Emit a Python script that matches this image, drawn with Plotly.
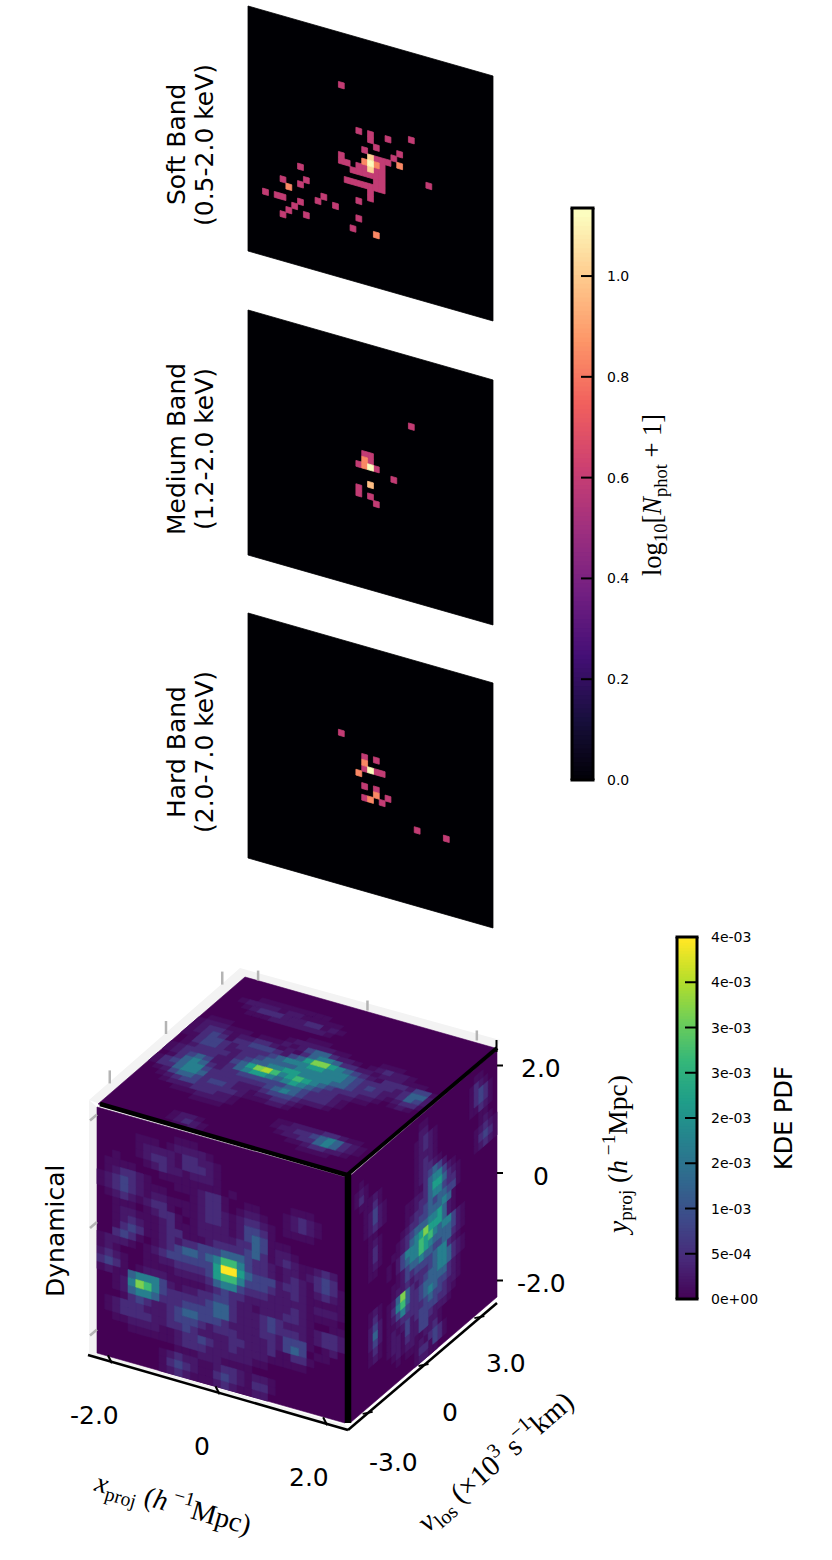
import plotly.colors as pc
import plotly.graph_objects as go

PHOT_MAX = 1.135
KDE_MAX = 4e-3

# photon maps: column, row, log10(N+1), background is zero
M, O, P, W = 0.6, 0.85, 1.03, 1.13
SOFT_COLS = [16, 19, 21, 21, 22, 24, 28, 20, 16, 16, 17, 26, 25, 26, 31, 20, 21, 21, 21, 22,
             18, 19, 19, 20, 20, 21, 22, 22, 22, 23, 23, 23, 23, 23, 23, 24, 22,
             17, 18, 19, 20, 21, 22, 21, 21,
             9, 6, 10, 9, 7, 3, 5, 6, 9, 8, 7, 6, 10, 13, 12, 15, 19, 19, 18, 22]
SOFT_ROWS = [9, 16, 16, 17, 18, 16, 15, 19, 21, 22, 22, 18, 19, 20, 22, 21, 20, 21, 22, 21,
             23, 22, 23, 22, 23, 23, 22, 23, 24, 20, 21, 22, 23, 24, 25, 20, 20,
             25, 25, 25, 25, 25, 25, 26, 27,
             25, 28, 27, 28, 29, 31, 31, 31, 31, 32, 33, 34, 33, 29, 30, 30, 28, 31, 33, 33]
SOFT_VALS = [M, M, M, M, M, M, M, M, M, M, M, M, M, O, M, O, P, W, P, O,
             M, M, M, M, M, M, M, M, M, M, M, M, M, M, M, M, M,
             M, M, M, M, M, M, M, M,
             M, M, M, M, O, M, M, M, M, M, M, M, M, M, M, M, M, M, M, O]

MEDIUM_COLS = [28, 20, 21, 20, 21, 19, 20, 21, 22, 25, 19, 19, 21, 21, 22]
MEDIUM_ROWS = [12, 19, 19, 20, 20, 21, 21, 21, 21, 22, 25, 26, 24, 26, 27]
MEDIUM_VALS = [M, M, M, O, M, M, O, W, M, M, M, M, 0.98, M, M]

HARD_COLS = [16, 20, 20, 20, 22, 19, 21, 22, 23, 20, 22, 22, 20, 21, 23, 24, 29, 34]
HARD_ROWS = [16, 19, 20, 21, 19, 22, 21, 21, 21, 24, 24, 25, 26, 26, 26, 25, 29, 29]
HARD_VALS = [M, M, O, M, M, O, W, M, M, M, M, O, M, O, M, M, M, M]

BAND_NAMES = ["Soft Band", "Medium Band", "Hard Band"]
BAND_RANGES = ["(0.5-2.0 keV)", "(1.2-2.0 keV)", "(2.0-7.0 keV)"]
PHOT_TICKS = [0.0, 0.2, 0.4, 0.6, 0.8, 1.0]
PHOT_TICK_TEXT = ["0.0", "0.2", "0.4", "0.6", "0.8", "1.0"]
KDE_TICKS = [0, 5e-4, 1e-3, 1.5e-3, 2e-3, 2.5e-3, 3e-3, 3.5e-3, 4e-3]
KDE_TICK_TEXT = ["0e+00", "5e-04", "1e-03", "2e-03", "2e-03", "3e-03", "3e-03", "4e-03", "4e-03"]

# KDE faces, one character per cell, fraction of the colour range
KDE_LEVELS = {":": 0.03, "1": 0.065, "2": 0.12, "3": 0.2, "4": 0.31, "5": 0.43, "6": 0.55,
              "7": 0.68, "8": 0.8, "9": 0.87, "A": 1.0}

FRONT_ROWS = [
    "................................",
    "..........:::...................",
    ".....:::.:1111:.................",
    ".....:1111:2211:................",
    ".....:1221:2221:................",
    "..:...:1211:111:................",
    ".::::...::::::::.:.......:::....",
    ".:1221:...:::122:..::...:121:...",
    ":12321:::...:122:.:11:..:121:...",
    ":12321:11::::1221:1221:.::::....",
    ".:121:122:.::1221:1332:.........",
    "..:::.:122:.:1111:1343:::.......",
    "..:11:::12:::111112243:11:......",
    "..:121::122:::12222342:121::121.",
    "..:232::121223334443221:11:1232.",
    "..232:.:123443457753221:121:232:",
    ":111:.:123333336AA643331221:121:",
    ":1:...::1122223677533321121:::::",
    "121:..::::11112455322211111:111:",
    "232:.:111:::::1232211111121::::.",
    ":1::455531:112233211:111221:..::",
    "..:158753222223442111232111:1221",
    "..:145542223333442111232221:1221",
    "...:23211234433321111221333:.:1",
    ".:1222111233321222111121343.::.",
    ".:122221122321111221112::22:....",
    "..::1111::122321121111:::::.....",
    "....::::::1222111111::.........",
    "..........:::111::::............",
    "........:1211::1221:11:.........",
    "........:2321::2321:22:.........",
    "........:121:::121::11..........",
]

RIGHT_ROWS = [
    "................................",
    "...............::..........::...",
    "..:............11.........:21:..",
    ".:1:..........:121:.......:232:.",
    ".:2:..........:121:.......:232:.",
    "..:::1:.......:111:.......::21:.",
    "...::2:.......:121:.........::..",
    "...:131:......:1221:........:1:.",
    "...:131:......:123431......:121:",
    "...:121:......::245531:....:232:",
    "....::......::112466421:...:121:",
    "....:1:.....::122455322:........",
    "....:2:.....:1223434433:........",
    "....:2:....:1223344454:.........",
    "....:1:...:12344455641:.........",
    "....::...::12456866641:.........",
    "........:.13555767545531:.......",
    "........:.13455765444431:.......",
    "..........:1344544334421:......",
    ".........::132333345521:.......",
    "....:1:..:11212223455421:.......",
    "....:2:.:148421234455421:.......",
    "....131.:25742234444421:........",
    "....141.:13532234543321:........",
    "....131.::1222223433211:........",
    "....:2:.:1:13123333221:.........",
    "....:1:.:11:311332111:..........",
    "........:11:2113311:............",
    ".........:1:11::112:............",
    "..........:.:::1:232:...........",
    "..............:22:32:...........",
    "..............:11::.............",
]

TOP_ROWS = [
    "................................",
    "................................",
    "................................",
    "....:::::::::...................",
    "..:1111:11:::::.................",
    "...:122211122:1:................",
    "....:::1111111:.................",
    "................................",
    ".............:::................",
    ".:::.......:11111::....:::......",
    ":111:::.:::1:1344211:.:1211:....",
    ":1221:11221:1:245542211:111:::..",
    ":1232:223332134688654321:222133:",
    "::233212222345556655543222212441",
    ".:233211223444455555543232112431",
    ".:1222212344556655554432221:122:",
    ":1222211346897567654322211:.:1:",
    ":12343112456654565432211::......",
    ".:245421223333334432221:........",
    ":2345532222222345432221:........",
    ":224554222211123332111:.........",
    ".:13443233211:11221:............",
    "..:1233222221:::11:.............",
    "...:11122211:...................",
    ".....:::1111:...................",
    "........::::.......::1111221::..",
    "...................:1122345421:.",
    "....................:112245421:",
    "......................::12211:..",
    "........:11:............::::....",
    "........:121:...................",
    ".........::1:...................",
]

X_TICKS = [-2.0, 0, 2.0]
V_TICKS = [-3.0, 0, 3.0]
Y_TICKS = [-2.0, 0, 2.0]
X_TICK_TEXT = ["-2.0", "0", "2.0"]
V_TICK_TEXT = ["-3.0", "0", "3.0"]
Y_TICK_TEXT = ["-2.0", "0", "2.0"]

# page geometry of the panels and the cube (origin, column step, row step)
PANEL_TOPS = [6, 310, 613]
PANEL_X0 = 248
PANEL_CELL = 5.833
PANEL_SHEAR = 0.2857
PANEL_N = 42
FRONT_FACE = ((97, 1107), (248 / 32, 70 / 32), (0, 246 / 32))
RIGHT_FACE = ((350, 1176), (147 / 32, -126 / 32), (0, 247 / 32))
TOP_FACE = ((245, 977), (250 / 32, 71 / 32), (-147 / 32, 127 / 32))
FONT_SANS = "DejaVu Sans"
FONT_MATH = "Liberation Serif"

MAGMA = pc.sequential.Magma
VIRIDIS = pc.sequential.Viridis


def cell_polygon(face, col0, row0, col1, row1):
    (ox, oy), (ax, ay), (bx, by) = face
    pts = [(col0, row0), (col1, row0), (col1, row1), (col0, row1), (col0, row0)]
    return [ox + c * ax + r * bx for c, r in pts], [oy + c * ay + r * by for c, r in pts]


def add_cells(fig, groups, scale, seam=0.6):
    for frac, polys in sorted(groups.items()):
        xs, ys = [], []
        for px, py in polys:
            xs += px + [None]
            ys += py + [None]
        color = pc.sample_colorscale(scale, [frac])[0]
        fig.add_trace(go.Scatter(x=xs, y=ys, mode="lines", fill="toself", fillcolor=color,
                                 line={"color": color, "width": seam}, hoverinfo="skip"))


# filled traces can sit over plain line traces, so edges and ticks go in as shapes
def add_line(fig, xs, ys, color="black", width=2.0):
    for i in range(len(xs) - 1):
        fig.add_shape(type="line", x0=xs[i], y0=ys[i], x1=xs[i + 1], y1=ys[i + 1], layer="above",
                      line={"color": color, "width": width})


def label(fig, x, y, text, size, angle=0, family=FONT_SANS, anchor="center"):
    fig.add_annotation(x=x, y=y, text=text, showarrow=False, textangle=angle, xanchor=anchor,
                       yanchor="middle", font={"family": family, "size": size, "color": "black"},
                       borderpad=0)


def colorbar(fig, scale, vmax, left, right, top, bottom, label_x, tickvals, ticktext):
    steps = 128
    face = ((left, bottom), (right - left, 0), (0, (top - bottom) / steps))
    groups = {i / (steps - 1): [cell_polygon(face, 0, max(i - 1, 0), 1, i + 1)] for i in range(steps)}
    add_cells(fig, groups, scale, seam=0)
    for v, text in zip(tickvals, ticktext):
        ty = bottom + (top - bottom) * v / vmax
        add_line(fig, [right - 12, right], [ty, ty], width=2)
        label(fig, label_x, ty, text, 14, anchor="left")
    add_line(fig, [left - 1.5, right + 1.5], [top, top], width=3)
    add_line(fig, [left - 1.5, right + 1.5], [bottom, bottom], width=3)
    add_line(fig, [left, left], [top, bottom], width=3)
    add_line(fig, [right, right], [top, bottom], width=3)


fig = go.Figure()

# photon panels
bands = [(SOFT_COLS, SOFT_ROWS, SOFT_VALS), (MEDIUM_COLS, MEDIUM_ROWS, MEDIUM_VALS), (HARD_COLS, HARD_ROWS, HARD_VALS)]
for top, (cols, rows, vals), name, erange in zip(PANEL_TOPS, bands, BAND_NAMES, BAND_RANGES):
    face = ((PANEL_X0, top), (PANEL_CELL, PANEL_CELL * PANEL_SHEAR), (0, PANEL_CELL))
    groups = {0.0: [cell_polygon(face, 0, 0, PANEL_N, PANEL_N)]}
    for c, r, v in zip(cols, rows, vals):
        groups.setdefault(v / PHOT_MAX, []).append(cell_polygon(face, c - 0.5, r - 0.5, c + 0.5, r + 0.5))
    add_cells(fig, groups, MAGMA, seam=0.8)
    label(fig, 176, top + 139, name, 25, -90)
    label(fig, 204, top + 139, erange, 25, -90)

# cube panes and their gridline stubs
PANE = "#f3f3f3"
fig.add_trace(go.Scatter(x=[89, 97, 97, 345, 348, 89, 89], y=[1100, 1107, 1353, 1423, 1430, 1355, 1100], mode="lines",
                         fill="toself", fillcolor=PANE, line={"width": 0}, hoverinfo="skip"))
fig.add_trace(go.Scatter(x=[89, 240, 500, 497, 245, 100, 89], y=[1100, 968, 1040, 1048, 977, 1104, 1100], mode="lines",
                         fill="toself", fillcolor=PANE, line={"width": 0}, hoverinfo="skip"))
fig.add_trace(go.Scatter(x=[97, 348, 345, 97], y=[1353, 1426, 1423, 1353], mode="lines", fill="toself",
                         fillcolor="white", line={"width": 0}, hoverinfo="skip"))

GRID = "#b4b4b4"
for t in X_TICKS:
    f = 0.486 + t * 0.217
    gx, gy = 245 + 252 * f, 977 + 69 * f
    add_line(fig, [gx, gx], [gy - 10, gy], GRID, 2.5)
for t in V_TICKS:
    f = 0.5 + t * 0.1267
    gx, gy = 92 + 148 * f, 1098 - 130 * f
    add_line(fig, [gx, gx], [gy - 12, gy + 1], GRID, 2.5)
for t in Y_TICKS:
    f = 0.508 + t * 0.215
    gy = 1300 - 250 * f + 52
    add_line(fig, [90, 97], [gy + 3, gy - 3], GRID, 2.5)

# cube faces
for face, rows in ((TOP_FACE, TOP_ROWS), (FRONT_FACE, FRONT_ROWS), (RIGHT_FACE, RIGHT_ROWS)):
    groups = {0.0: [cell_polygon(face, 0, 0, 32, 32)]}
    for r, row in enumerate(rows):
        for c, ch in enumerate(row[:32]):
            if ch in KDE_LEVELS:
                groups.setdefault(KDE_LEVELS[ch], []).append(cell_polygon(face, c, r, c + 1, r + 1))
    add_cells(fig, groups, VIRIDIS)

# cube edges and axes
add_line(fig, [100, 347], [1104, 1175], width=4.5)
add_line(fig, [348, 348], [1174, 1423], width=6.5)
add_line(fig, [347, 497], [1175, 1048], width=4)
add_line(fig, [496.5, 496.5], [1040, 1052], width=2)
add_line(fig, [88, 348, 497], [1355, 1430, 1303], width=2.5)

for t, text, lx, ly in zip(X_TICKS, X_TICK_TEXT, [94, 202, 309], [1415, 1446, 1477]):
    f = 0.486 + t * 0.217
    tx, ty = 97 + 248 * f, 1355.5 + 248 * f * 0.288
    add_line(fig, [tx - 2, tx + 2], [ty - 4, ty + 4], width=2)
    label(fig, lx, ly, text, 25)
for t, text, lx, ly in zip(V_TICKS, V_TICK_TEXT, [393, 450, 506], [1462, 1412, 1363]):
    f = 0.5 + t * 0.1267
    tx, ty = 350 + 147 * f, 1428 - 126 * f
    add_line(fig, [tx - 5, tx + 5], [ty + 1, ty - 1], width=2)
    label(fig, lx, ly, text, 25)
for t, text in zip(Y_TICKS, Y_TICK_TEXT):
    f = 0.508 + t * 0.215
    ty = 1300 - 250 * f
    add_line(fig, [497, 503], [ty, ty], width=2)
    label(fig, 541, ty + 3, text, 25)

label(fig, 55, 1231, "Dynamical", 25, -90)
label(fig, 173, 1503, "<i>x</i><sub>proj</sub> (<i>h</i><sup> −1</sup>Mpc)", 28, 16, FONT_MATH)
label(fig, 495, 1461, "<i>v</i><sub>los</sub> (×10<sup>3</sup> s<sup>−1</sup>km)", 29, -41, FONT_MATH)
label(fig, 617, 1156, "<i>y</i><sub>proj</sub> (<i>h</i><sup> −1</sup>Mpc)", 27.5, -90, FONT_MATH)
label(fig, 654, 495, "log<sub>10</sub>[<i>N</i><sub>phot</sub> + 1]", 26.5, -90, FONT_MATH)
label(fig, 784, 1118, "KDE PDF", 24, -90)

colorbar(fig, MAGMA, PHOT_MAX, 572, 593, 208, 780, 606, PHOT_TICKS, PHOT_TICK_TEXT)
colorbar(fig, VIRIDIS, KDE_MAX, 677, 697, 937, 1299, 710, KDE_TICKS, KDE_TICK_TEXT)

fig.update_layout(
    width=832,
    height=1560,
    margin={"l": 0, "r": 0, "t": 0, "b": 0},
    paper_bgcolor="white",
    plot_bgcolor="white",
    showlegend=False,
    xaxis={"range": [0, 832], "visible": False, "fixedrange": True},
    yaxis={"range": [1560, 0], "visible": False, "fixedrange": True},
)
fig.write_html("out.html", config={"displayModeBar": False}, post_script="document.body.style.margin = '0';")
